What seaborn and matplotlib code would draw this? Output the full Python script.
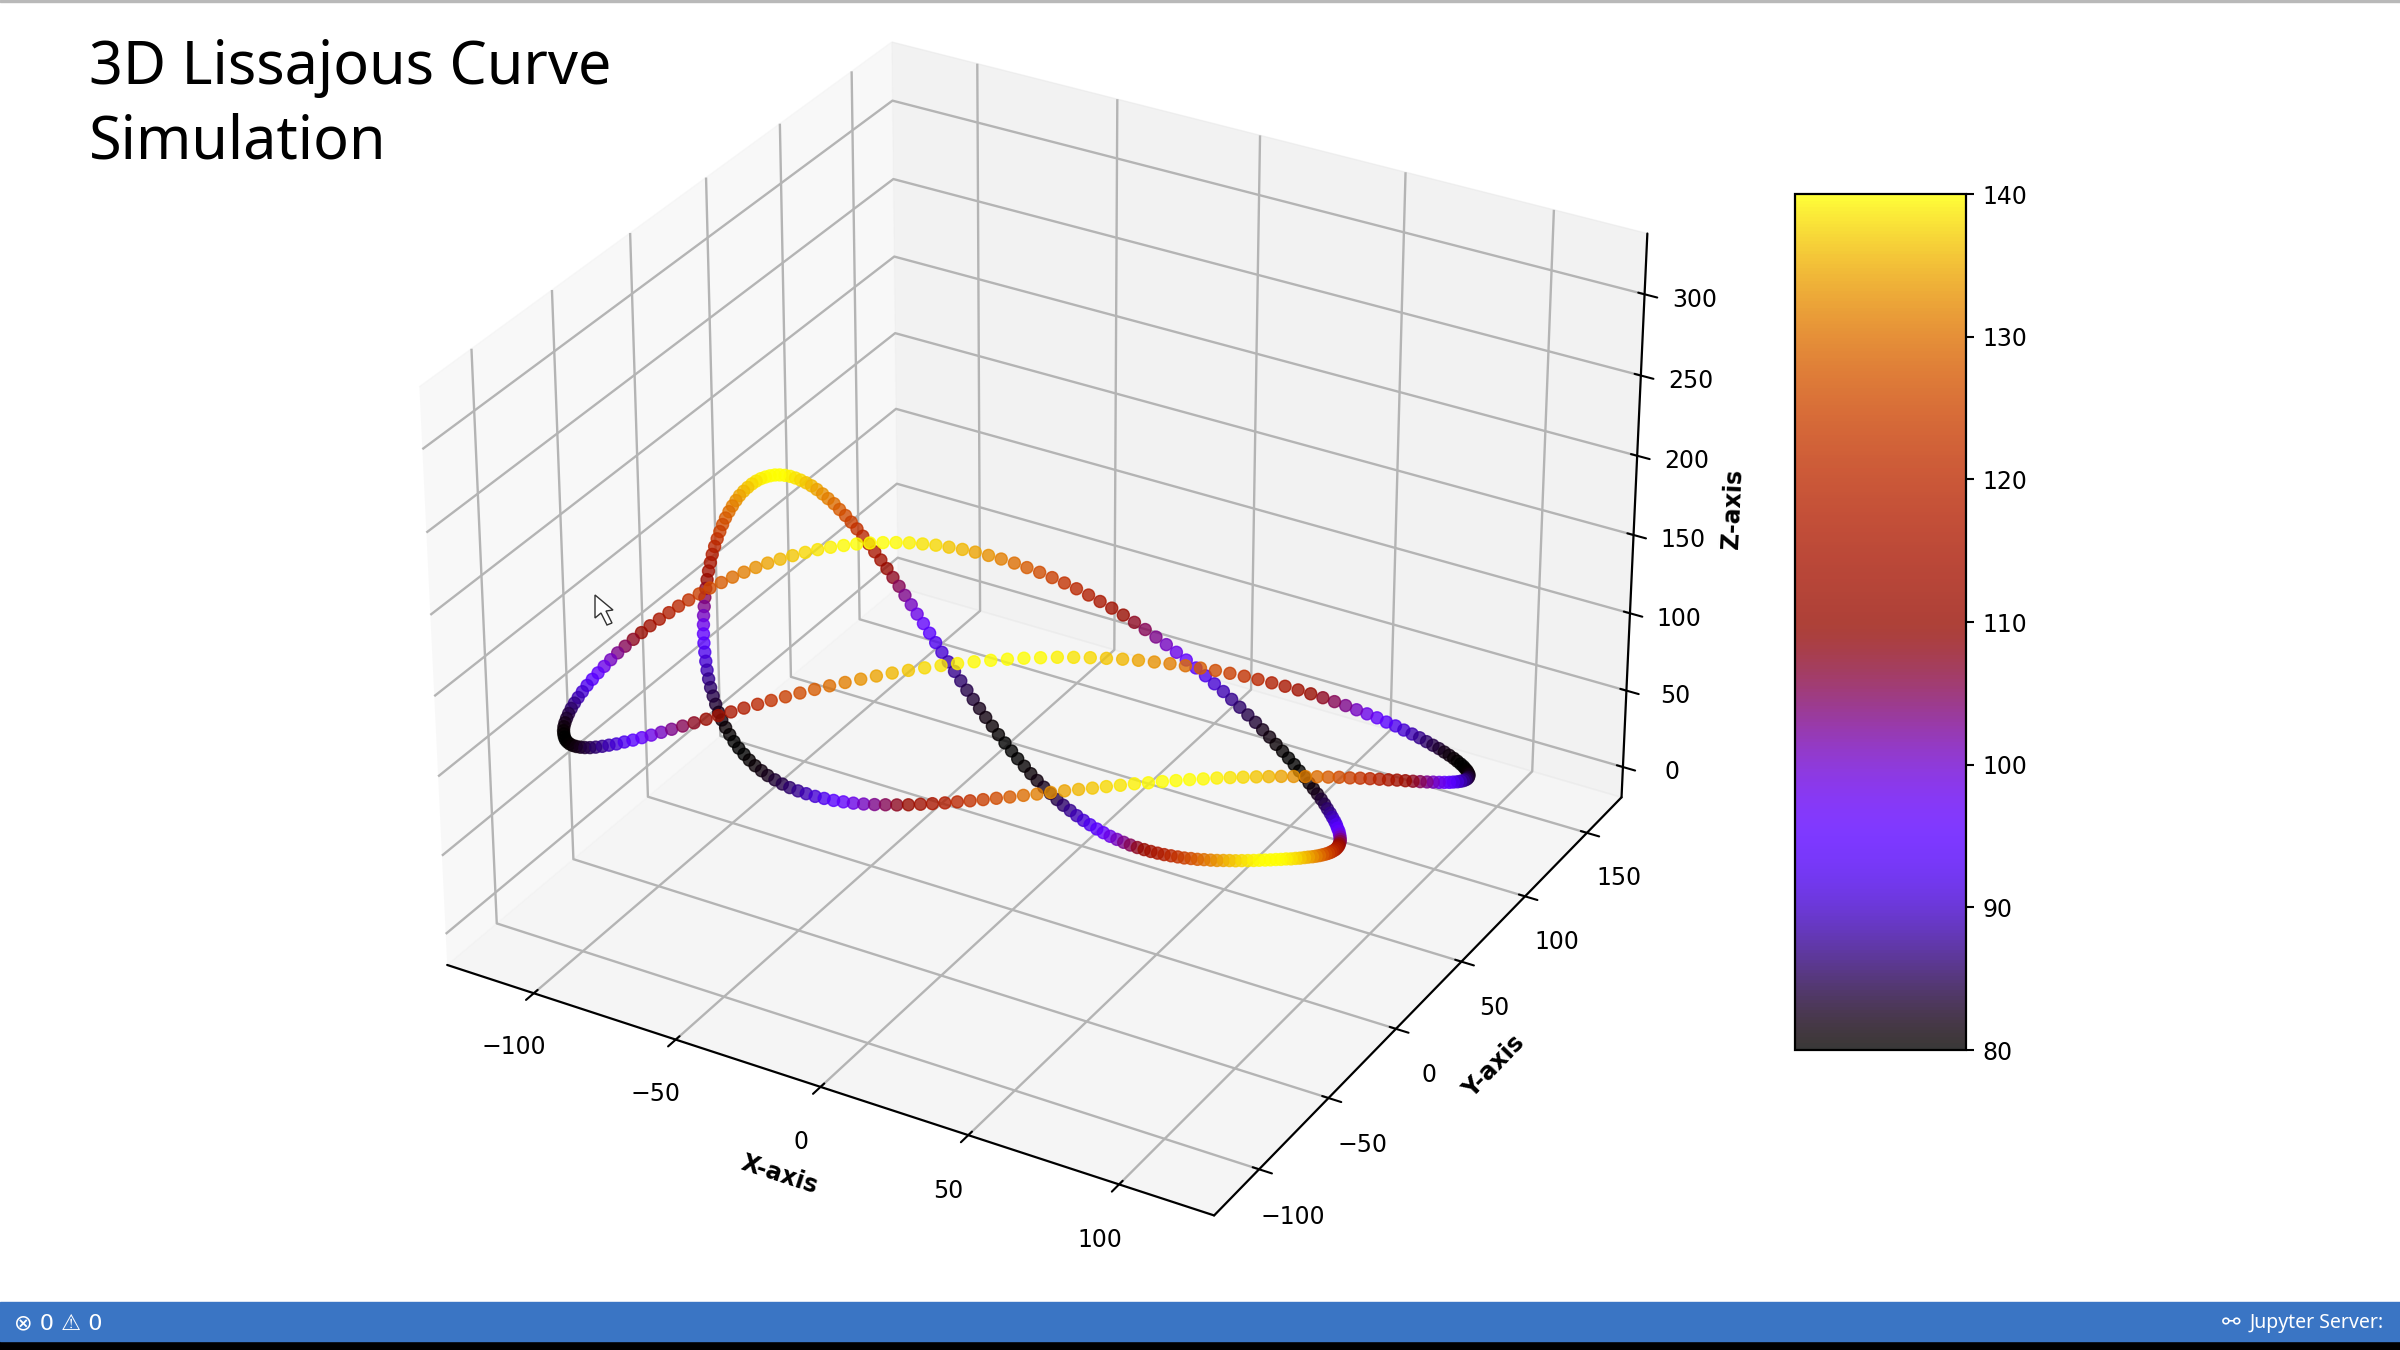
# ==========================================
# 3D LISSAJOUS CURVE SIMULATION
# ==========================================
import numpy as np
import matplotlib
matplotlib.use("Agg")
import matplotlib.pyplot as plt
from matplotlib.colors import ListedColormap
from matplotlib.patches import Rectangle, Polygon
import seaborn as sns

# ==========================================
# Values
# ==========================================
x_values = [
    -120.3, -121.4, -122.4, -123.3, -124.1, -124.7, -125.2, -125.6, -125.9, -126.0, -126.0, -125.9, -125.7, -125.3, -124.8, -124.2, -123.5, -122.7, -121.7, -120.6,
    -119.4, -118.1, -116.6, -115.0, -113.4, -111.6, -109.7, -107.7, -105.5, -103.3, -101.0, -98.6, -96.1, -93.4, -90.7, -87.9, -85.1, -82.1, -79.0, -75.9,
    -72.7, -69.4, -66.1, -62.7, -59.2, -55.7, -52.1, -48.4, -44.8, -41.0, -37.3, -33.4, -29.6, -25.7, -21.8, -17.9, -14.0, -10.0, -6.1, -2.1,
    1.9, 5.9, 9.8, 13.8, 17.7, 21.6, 25.5, 29.4, 33.3, 37.1, 40.9, 44.6, 48.3, 52.0, 55.6, 59.1, 62.6, 66.0, 69.4, 72.7,
    75.9, 79.0, 82.1, 85.1, 88.0, 90.8, 93.6, 96.2, 98.7, 101.2, 103.5, 105.8, 107.9, 109.9, 111.9, 113.7, 115.4, 117.0, 118.5, 119.8,
    121.1, 122.2, 123.2, 124.1, 124.8, 125.5, 126.0, 126.4, 126.6, 126.8, 126.8, 126.7, 126.4, 126.1, 125.6, 125.0, 124.3, 123.4, 122.4, 121.3,
    120.1, 118.8, 117.3, 115.8, 114.1, 112.3, 110.4, 108.4, 106.3, 104.1, 101.8, 99.3, 96.8, 94.2, 91.5, 88.7, 85.8, 82.8, 79.8, 76.7,
    73.5, 70.2, 66.8, 63.4, 59.9, 56.4, 52.8, 49.2, 45.5, 41.8, 38.0, 34.2, 30.3, 26.5, 22.6, 18.7, 14.7, 10.8, 6.8, 2.8,
    -1.1, -5.1, -9.1, -13.0, -17.0, -20.9, -24.8, -28.7, -32.5, -36.3, -40.1, -43.9, -47.6, -51.2, -54.8, -58.4, -61.8, -65.3, -68.6, -71.9,
    -75.1, -78.3, -81.4, -84.4, -87.3, -90.1, -92.8, -95.4, -98.0, -100.4, -102.8, -105.0, -107.2, -109.2, -111.1, -112.9, -114.6, -116.2, -117.7, -119.1,
    -120.3, -121.4, -122.4, -123.3, -124.1, -124.7, -125.2, -125.6, -125.9, -126.0, -126.0, -125.9, -125.7, -125.3, -124.8, -124.2, -123.5, -122.7, -121.7, -120.6,
    -119.4, -118.1, -116.6, -115.0, -113.4, -111.6, -109.7, -107.7, -105.5, -103.3, -101.0, -98.6, -96.1, -93.4, -90.7, -87.9, -85.1, -82.1, -79.0, -75.9,
    -72.7, -69.4, -66.1, -62.7, -59.2, -55.7, -52.1, -48.4, -44.8, -41.0, -37.3, -33.4, -29.6, -25.7, -21.8, -17.9, -14.0, -10.0, -6.1, -2.1,
    1.9, 5.9, 9.8, 13.8, 17.7, 21.6, 25.5, 29.4, 33.3, 37.1, 40.9, 44.6, 48.3, 52.0, 55.6, 59.1, 62.6, 66.0, 69.4, 72.7,
    75.9, 79.0, 82.1, 85.1, 88.0, 90.8, 93.6, 96.2, 98.7, 101.2, 103.5, 105.8, 107.9, 109.9, 111.9, 113.7, 115.4, 117.0, 118.5, 119.8,
    121.1, 122.2, 123.2, 124.1, 124.8, 125.5, 126.0, 126.4, 126.6, 126.8, 126.8, 126.7, 126.4, 126.1, 125.6, 125.0, 124.3, 123.4, 122.4, 121.3,
    120.1, 118.8, 117.3, 115.8, 114.1, 112.3, 110.4, 108.4, 106.3, 104.1, 101.8, 99.3, 96.8, 94.2, 91.5, 88.7, 85.8, 82.8, 79.8, 76.7,
    73.5, 70.2, 66.8, 63.4, 59.9, 56.4, 52.8, 49.2, 45.5, 41.8, 38.0, 34.2, 30.3, 26.5, 22.6, 18.7, 14.7, 10.8, 6.8, 2.8,
    -1.1, -5.1, -9.1, -13.0, -17.0, -20.9, -24.8, -28.7, -32.5, -36.3, -40.1, -43.9, -47.6, -51.2, -54.8, -58.4, -61.8, -65.3, -68.6, -71.9,
    -75.1, -78.3, -81.4, -84.4, -87.3, -90.1, -92.8, -95.4, -98.0, -100.4, -102.8, -105.0, -107.2, -109.2, -111.1, -112.9, -114.6, -116.2, -117.7, -119.1,
]

y_values = [
    -70.7, -69.4, -68.0, -66.5, -64.8, -63.0, -61.0, -58.9, -56.6, -54.3, -51.8, -49.2, -46.4, -43.6, -40.7, -37.7, -34.6, -31.4, -28.2, -24.8,
    -21.5, -18.1, -14.6, -11.1, -7.6, -4.1, -0.5, 3.0, 6.6, 10.1, 13.6, 17.1, 20.5, 23.9, 27.3, 30.6, 33.8, 36.9, 40.0, 43.0,
    45.9, 48.6, 51.3, 53.9, 56.3, 58.7, 60.8, 62.9, 64.8, 66.6, 68.2, 69.7, 71.0, 72.2, 73.2, 74.1, 74.8, 75.3, 75.6, 75.8,
    75.9, 75.7, 75.4, 74.9, 74.3, 73.5, 72.5, 71.4, 70.1, 68.6, 67.1, 65.3, 63.4, 61.4, 59.3, 57.0, 54.6, 52.0, 49.4, 46.6,
    43.8, 40.8, 37.8, 34.6, 31.4, 28.2, 24.8, 21.5, 18.0, 14.5, 11.0, 7.5, 4.0, 0.4, -3.1, -6.7, -10.2, -13.7, -17.1, -20.6,
    -24.0, -27.3, -30.5, -33.7, -36.9, -39.9, -42.8, -45.7, -48.4, -51.1, -53.6, -56.0, -58.3, -60.4, -62.5, -64.3, -66.1, -67.6, -69.1, -70.3,
    -71.5, -72.4, -73.2, -73.9, -74.3, -74.6, -74.8, -74.7, -74.5, -74.2, -73.6, -72.9, -72.1, -71.0, -69.9, -68.5, -67.0, -65.4, -63.6, -61.7,
    -59.6, -57.4, -55.1, -52.6, -50.0, -47.4, -44.6, -41.7, -38.7, -35.6, -32.5, -29.2, -26.0, -22.6, -19.2, -15.8, -12.3, -8.8, -5.2, -1.7,
    1.9, 5.4, 8.9, 12.5, 15.9, 19.4, 22.8, 26.2, 29.5, 32.7, 35.9, 39.0, 42.0, 44.9, 47.7, 50.4, 53.0, 55.5, 57.9, 60.1,
    62.2, 64.2, 66.0, 67.7, 69.2, 70.6, 71.8, 72.9, 73.8, 74.6, 75.1, 75.5, 75.8, 75.9, 75.8, 75.5, 75.1, 74.5, 73.8, 72.8,
    71.8, 70.5, 69.1, 67.6, 65.9, 64.1, 62.1, 60.0, 57.7, 55.4,
    52.9, 50.3, 47.5, 44.7, 41.8, 38.8, 35.7, 32.5, 29.3, 25.9,
    22.6, 19.2, 15.7, 12.2, 8.7, 5.2, 1.6, -1.9, -5.5, -9.0,
    -12.5, -16.0, -19.4, -22.8, -26.2, -29.5, -32.7, -35.8, -38.9, -41.9,
    -44.8, -47.5, -50.2, -52.8, -55.2, -57.6, -59.7, -61.8, -63.7, -65.5,
    -67.1, -68.6, -69.9, -71.1, -72.1, -73.0, -73.7, -74.2, -74.5, -74.7,
    -74.8, -74.6, -74.3, -73.8, -73.2, -72.4, -71.4, -70.3, -69.0, -67.5,
    -66.0, -64.2, -62.3, -60.3, -58.2, -55.9, -53.5, -50.9, -48.3, -45.5,
    -42.7, -39.7, -36.7, -33.5, -30.3, -27.1, -23.7, -20.4, -16.9, -13.4,
    -9.9, -6.4, -2.9, 0.7, 4.2, 7.8, 11.3, 14.8, 18.2, 21.7,
    25.1, 28.4, 31.6, 34.8, 38.0, 41.0, 43.9, 46.8, 49.5, 52.2,
    54.7, 57.1, 59.4, 61.5, 63.6, 65.4, 67.2, 68.7, 70.2, 71.4,
    72.6, 73.5, 74.3, 75.0, 75.4, 75.7, 75.9, 75.8, 75.6, 75.3,
    74.7, 74.0, 73.2, 72.1, 71.0, 69.6, 68.1, 66.5, 64.7, 62.8,
    60.7, 58.5, 56.2, 53.7, 51.1, 48.5, 45.7, 42.8, 39.8, 36.7,
    33.6, 30.3, 27.1, 23.7, 20.3, 16.9, 13.4, 9.9, 6.3, 2.8,
    -0.8, -4.3, -7.8, -11.4, -14.8, -18.3, -21.7, -25.1, -28.4, -31.6,
    -34.8, -37.9, -40.9, -43.8, -46.6, -49.3, -51.9, -54.4, -56.8, -59.0,
    -61.1, -63.1, -64.9, -66.6, -68.1, -69.5, -70.7, -71.8, -72.7, -73.5,
    -74.0, -74.4, -74.7, -74.8, -74.7, -74.4, -74.0, -73.4, -72.7, -71.7,
]

z_values = [
    80.0, 80.1, 80.4, 80.8, 81.5, 82.3, 83.3, 84.4, 85.7, 87.2, 88.8, 90.5, 92.4, 94.3, 96.4, 98.5, 100.7, 103.0, 105.3, 107.6,
    110.0, 112.4, 114.7, 117.0, 119.3, 121.5, 123.6, 125.7, 127.6, 129.5, 131.2, 132.8, 134.3, 135.6, 136.7, 137.7, 138.5, 139.2, 139.6, 139.9,
    140.0, 139.9, 139.6, 139.2, 138.5, 137.7, 136.7, 135.6, 134.3, 132.8, 131.2, 129.5, 127.6, 125.7, 123.6, 121.5, 119.3, 117.0, 114.7, 112.4,
    110.0, 107.6, 105.3, 103.0, 100.7, 98.5, 96.4, 94.3, 92.4, 90.5, 88.8, 87.2, 85.7, 84.4, 83.3, 82.3, 81.5, 80.8, 80.4, 80.1,
    80.0, 80.1, 80.4, 80.8, 81.5, 82.3, 83.3, 84.4, 85.7, 87.2, 88.8, 90.5, 92.4, 94.3, 96.4, 98.5, 100.7, 103.0, 105.3, 107.6,
    110.0, 112.4, 114.7, 117.0, 119.3, 121.5, 123.6, 125.7, 127.6, 129.5, 131.2, 132.8, 134.3, 135.6, 136.7, 137.7, 138.5, 139.2, 139.6, 139.9,
    140.0, 139.9, 139.6, 139.2, 138.5, 137.7, 136.7, 135.6, 134.3, 132.8, 131.2, 129.5, 127.6, 125.7, 123.6, 121.5, 119.3, 117.0, 114.7, 112.4,
    110.0, 107.6, 105.3, 103.0, 100.7, 98.5, 96.4, 94.3, 92.4, 90.5, 88.8, 87.2, 85.7, 84.4, 83.3, 82.3, 81.5, 80.8, 80.4, 80.1,
    80.0, 80.1, 80.4, 80.8, 81.5, 82.3, 83.3, 84.4, 85.7, 87.2, 88.8, 90.5, 92.4, 94.3, 96.4, 98.5, 100.7, 103.0, 105.3, 107.6,
    110.0, 112.4, 114.7, 117.0, 119.3, 121.5, 123.6, 125.7, 127.6, 129.5, 131.2, 132.8, 134.3, 135.6, 136.7, 137.7, 138.5, 139.2, 139.6, 139.9,
    140.0, 139.9, 139.6, 139.2, 138.5, 137.7, 136.7, 135.6, 134.3, 132.8, 131.2, 129.5, 127.6, 125.7, 123.6, 121.5, 119.3, 117.0, 114.7, 112.4,
    110.0, 107.6, 105.3, 103.0, 100.7, 98.5, 96.4, 94.3, 92.4, 90.5, 88.8, 87.2, 85.7, 84.4, 83.3, 82.3, 81.5, 80.8, 80.4, 80.1,
    80.0, 80.1, 80.4, 80.8, 81.5, 82.3, 83.3, 84.4, 85.7, 87.2, 88.8, 90.5, 92.4, 94.3, 96.4, 98.5, 100.7, 103.0, 105.3, 107.6,
    110.0, 112.4, 114.7, 117.0, 119.3, 121.5, 123.6, 125.7, 127.6, 129.5, 131.2, 132.8, 134.3, 135.6, 136.7, 137.7, 138.5, 139.2, 139.6, 139.9,
    140.0, 139.9, 139.6, 139.2, 138.5, 137.7, 136.7, 135.6, 134.3, 132.8, 131.2, 129.5, 127.6, 125.7, 123.6, 121.5, 119.3, 117.0, 114.7, 112.4,
    110.0, 107.6, 105.3, 103.0, 100.7, 98.5, 96.4, 94.3, 92.4, 90.5, 88.8, 87.2, 85.7, 84.4, 83.3, 82.3, 81.5, 80.8, 80.4, 80.1,
    80.0, 80.1, 80.4, 80.8, 81.5, 82.3, 83.3, 84.4, 85.7, 87.2, 88.8, 90.5, 92.4, 94.3, 96.4, 98.5, 100.7, 103.0, 105.3, 107.6,
    110.0, 112.4, 114.7, 117.0, 119.3, 121.5, 123.6, 125.7, 127.6, 129.5, 131.2, 132.8, 134.3, 135.6, 136.7, 137.7, 138.5, 139.2, 139.6, 139.9,
    140.0, 139.9, 139.6, 139.2, 138.5, 137.7, 136.7, 135.6, 134.3, 132.8, 131.2, 129.5, 127.6, 125.7, 123.6, 121.5, 119.3, 117.0, 114.7, 112.4,
    110.0, 107.6, 105.3, 103.0, 100.7, 98.5, 96.4, 94.3, 92.4, 90.5, 88.8, 87.2, 85.7, 84.4, 83.3, 82.3, 81.5, 80.8, 80.4, 80.1,
]

x_ticks = [-100, -50, 0, 50, 100]
y_ticks = [-100, -50, 0, 50, 100, 150]
z_ticks = [0, 50, 100, 150, 200, 250, 300]
color_ticks = [80, 90, 100, 110, 120, 130, 140]

# ==========================================
# Theme
# ==========================================
sns.set_theme(style="white", rc={
    "xtick.bottom": True, "ytick.left": True,
    "grid.color": "#b4b4b4", "grid.linewidth": 1.7,
    "axes.linewidth": 1.6, "xtick.major.width": 1.5, "ytick.major.width": 1.5,
    "axes.edgecolor": "black", "axes.labelcolor": "black", "text.color": "black",
    "xtick.color": "black", "ytick.color": "black",
})

W, H = 2400, 1350
fig = plt.figure(figsize=(24, 13.5), dpi=100)

# ==========================================
# 3D Scatter
# ==========================================
ax = fig.add_axes([344.1/W, (H+63.7-1365.3)/H, 1365.3/W, 1365.3/H], projection="3d")
ax.set_xlim(-131, 131, view_margin=0)
ax.set_ylim(-131.6, 178.6, view_margin=0)
ax.set_zlim(-20, 337, view_margin=0)
ax.set_xticks(x_ticks)
ax.set_yticks(y_ticks)
ax.set_zticks(z_ticks)
ax.tick_params(labelsize=17, pad=14)
ax.set_xlabel("X-axis", fontsize=17, fontweight="bold", labelpad=24)
ax.set_ylabel("Y-axis", fontsize=17, fontweight="bold", labelpad=24)
ax.set_zlabel("Z-axis", fontsize=17, fontweight="bold", labelpad=23)

# gnuplot colours, a bit duller like the video capture
cmap = ListedColormap(np.array(sns.color_palette("gnuplot", 256)) ** 1.5)
points = ax.scatter(x_values, y_values, z_values, c=z_values, cmap=cmap, vmin=80, vmax=140,
                    s=75, alpha=0.78, depthshade=False, linewidths=1)

# ==========================================
# Colorbar
# ==========================================
cax = fig.add_axes([1795/W, (H-1050)/H, 171/W, 856/H])
cbar = fig.colorbar(points, cax=cax)
cbar.set_ticks(color_ticks)
cbar.ax.tick_params(labelsize=17, length=6, width=1.5, pad=6)

# ==========================================
# Title and screenshot furniture
# ==========================================
fig.text(89/W, (H-38)/H, "3D Lissajous Curve\nSimulation", fontsize=42.7,
         family="Noto Sans", va="top", linespacing=1.31)

fig.add_artist(Rectangle((0, 0), 1, 9/H, transform=fig.transFigure, color="black"))
fig.add_artist(Rectangle((0, 9/H), 1, 39/H, transform=fig.transFigure, color="#3A75C4"))
fig.add_artist(Rectangle((0, 1-2/H), 1, 2/H, transform=fig.transFigure, color="#b9b9b9"))
fig.text(14/W, 27/H, "⊗ 0 ⚠ 0", color="white", fontsize=16, family="DejaVu Sans", va="center")
fig.text(2222/W, 27/H, "⚯", color="white", fontsize=16, family="DejaVu Sans", va="center")
fig.text(2250/W, 27/H, "Jupyter Server:", color="white", fontsize=14, family="Noto Sans", va="center")

# Mouse pointer left in the capture
cursor = np.array([[595, 595], [595, 618], [601, 613], [607, 625], [612, 623], [606, 611], [613, 610]], float)
fig.add_artist(Polygon(np.column_stack([cursor[:, 0]/W, 1-cursor[:, 1]/H]), closed=True,
                       transform=fig.transFigure, fc="white", ec="#333333", lw=1))

fig.savefig("out.png", dpi=100)
